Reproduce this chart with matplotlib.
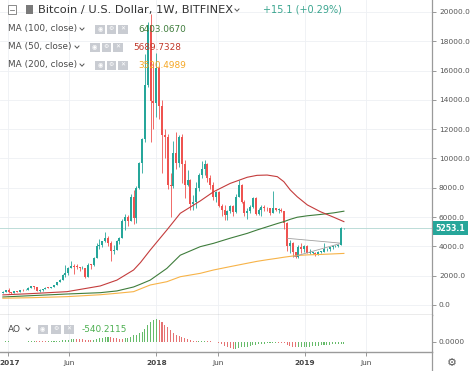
import pandas as pd
import matplotlib
matplotlib.use("Agg")
from matplotlib import pyplot as plt
from matplotlib import dates as mdates
from matplotlib import transforms
from matplotlib.lines import Line2D
from matplotlib.patches import Rectangle

W, H = 474, 371  # pixel size of the figure

# weekly BTC/USD candles, first week starts 2016-12-19
start_week = "2016-12-19"
opens = [
    790, 900, 998, 910, 820, 922, 915, 1015, 998, 1050,
    1180, 1270, 1230, 965, 1040, 1080, 1190, 1180, 1250, 1350,
    1560, 1720, 2040, 2150, 2550, 2640, 2600, 2590, 2500, 2510,
    1930, 2760, 2730, 3240, 4060, 4090, 4350, 4600, 4250, 3700,
    3780, 4400, 4600, 5700, 6000, 5750, 7400, 5950, 8000, 9700,
    11300, 15000, 19100, 13900, 13800, 16200, 13600, 11600, 11500, 8200,
    8100, 10400, 9700, 11500, 9600, 8200, 8500, 6900, 7000, 8000,
    8900, 9300, 9650, 8700, 8200, 7350, 7700, 6770, 6500, 6150,
    6400, 6750, 6350, 7400, 8200, 7030, 6300, 6400, 6700, 7300,
    6200, 6500, 6700, 6620, 6600, 6300, 6600, 6500, 6500, 6400,
    5600, 4000, 4200, 3600, 3250, 3980, 3850, 4050, 3550, 3550,
    3550, 3450, 3650, 3650, 3800, 3800, 3950, 4000, 4000, 4100,
    5238]
highs = [
    940, 1000, 1150, 915, 930, 930, 1030, 1060, 1060, 1200,
    1290, 1330, 1250, 1060, 1100, 1200, 1220, 1260, 1360, 1600,
    1800, 2100, 2760, 2560, 2980, 2800, 2780, 2620, 2640, 2530,
    2900, 2790, 3300, 4200, 4480, 4400, 4980, 4700, 4350, 4100,
    4450, 4650, 5850, 6200, 6150, 7600, 7880, 8100, 9750, 11400,
    17100, 19300, 19891, 16500, 17200, 16300, 14000, 12000, 11700, 9000,
    11200, 11800, 11600, 11700, 9900, 9200, 8600, 7500, 8400, 9000,
    9800, 9900, 9700, 8900, 8400, 7800, 7800, 6900, 6800, 6500,
    6850, 6800, 7600, 8500, 8250, 7150, 6600, 6800, 7400, 7400,
    6600, 6800, 6800, 6700, 6650, 7780, 6650, 6600, 6600, 6450,
    5650, 4450, 4300, 3650, 4100, 4250, 4100, 4100, 3800, 3650,
    3600, 3700, 3700, 4200, 3900, 3950, 4050, 4100, 4150, 5350,
    5280]
lows = [
    785, 880, 810, 755, 815, 880, 910, 940, 990, 1040,
    1140, 1100, 940, 890, 930, 1075, 1150, 1170, 1240, 1340,
    1550, 1700, 1900, 2080, 2540, 2100, 2450, 2330, 2480, 1830,
    1920, 2480, 2650, 3200, 3850, 3940, 4300, 4050, 2970, 3500,
    3740, 4150, 4550, 5100, 5400, 5700, 5500, 5600, 7950, 9000,
    11100, 14900, 11100, 12000, 12800, 12700, 9000, 10000, 7900, 6000,
    8000, 9300, 9400, 8300, 7300, 8100, 6500, 6500, 6600, 7800,
    8700, 8900, 8400, 7900, 7200, 7000, 6700, 6100, 5800, 5800,
    6300, 6100, 6300, 7400, 6950, 6100, 5900, 6250, 6600, 6150,
    6150, 6100, 6450, 6450, 6150, 6300, 6450, 6300, 6350, 5200,
    3700, 3550, 3250, 3200, 3200, 3550, 3650, 3550, 3500, 3450,
    3350, 3400, 3550, 3650, 3700, 3700, 3800, 3950, 3950, 4100,
    5200]
closes = [
    900, 998, 910, 820, 922, 915, 1015, 998, 1050, 1180,
    1270, 1230, 965, 1040, 1080, 1190, 1180, 1250, 1350, 1560,
    1720, 2040, 2150, 2550, 2640, 2600, 2590, 2500, 2510, 1930,
    2760, 2730, 3240, 4060, 4090, 4350, 4600, 4250, 3700, 3780,
    4400, 4600, 5700, 6000, 5750, 7400, 5950, 8000, 9700, 11300,
    15000, 19100, 13900, 13800, 16200, 13600, 11600, 11500, 8200, 8100,
    10400, 9700, 11500, 9600, 8200, 8500, 6900, 7000, 8000, 8900,
    9300, 9650, 8700, 8200, 7350, 7700, 6770, 6500, 6150, 6400,
    6750, 6350, 7400, 8200, 7030, 6300, 6400, 6700, 7300, 6200,
    6500, 6700, 6620, 6600, 6300, 6600, 6500, 6500, 6400, 5600,
    4000, 4200, 3600, 3250, 3980, 3850, 4050, 3550, 3550, 3550,
    3450, 3650, 3650, 3800, 3800, 3950, 4000, 4000, 4100, 5238,
    5253.1]

# awesome oscillator, one value per week
ao = [
    150, 180, 200, 170, 140, 120, 130, 140, 160, 200,
    260, 300, 260, 220, 200, 190, 200, 230, 270, 340,
    430, 560, 700, 850, 950, 1000, 980, 940, 880, 760,
    720, 700, 780, 1000, 1250, 1500, 1750, 1850, 1650, 1450,
    1300, 1200, 1150, 1300, 1500, 1900, 2300, 2600, 3000, 3600,
    4500, 5800, 7000, 7600, 8000, 7700, 7000, 6100, 5100, 4100,
    3300, 2600, 2100, 1700, 1300, 1000, 700, 400, 250, 300,
    400, 450, 350, 200, 30, -150, -400, -800, -1300, -1800,
    -2200, -2500, -2400, -2100, -1900, -1750, -1600, -1400, -1200, -1000,
    -850, -700, -550, -450, -350, -250, -200, -220, -300, -500,
    -900, -1300, -1700, -1900, -1850, -1800, -1750, -1700, -1600, -1500,
    -1400, -1300, -1200, -1100, -1000, -900, -800, -720, -650, -590,
    -540.2115]

# moving averages
ma_dates = ["2016-12-19", "2017-03-01", "2017-05-26", "2017-08-16", "2017-09-26",
            "2017-11-06", "2017-11-23", "2017-12-17", "2018-01-27", "2018-03-01",
            "2018-04-19", "2018-05-22", "2018-07-02", "2018-08-13", "2018-09-06",
            "2018-10-01", "2018-10-26", "2018-11-11", "2018-11-27", "2018-12-14",
            "2019-01-08", "2019-02-09", "2019-03-14", "2019-04-08"]
ma50 = [690, 780, 910, 1300, 1700, 2390, 2900, 3750, 5120, 6260, 7100, 7730,
        8300, 8720, 8850, 8870, 8760, 8420, 7850, 7390, 6830, 6370, 5990, 5689.7328]
ma100 = [546, 640, 750, 840, 960, 1230, 1420, 1700, 2500, 3400, 3980, 4210,
         4560, 4890, 5120, 5340, 5560, 5690, 5850, 5990, 6090, 6180, 6290, 6403.0670]
ma200 = [460, 500, 570, 700, 800, 910, 1100, 1365, 1590, 1930, 2160, 2390,
         2620, 2850, 2980, 3090, 3190, 3260, 3320, 3380, 3420, 3450, 3490, 3520.4989]

# triangle drawn on the chart
tri_dates = ["2018-11-20", "2019-03-28"]
tri_upper = [4550, 4230]
tri_lower_dates = ["2018-12-05", "2019-03-28"]
tri_lower = [3300, 4180]

tick_dates = ["2017-01-01", "2017-06-01", "2018-01-01", "2018-06-01", "2019-01-01", "2019-06-01"]
tick_names = ["2017", "Jun", "2018", "Jun", "2019", "Jun"]

up_col = "#26a69a"
down_col = "#ef5350"
grid_col = "#eef0f4"
line_col = "#9a9a9a"

plt.rcParams["font.family"] = ["DejaVu Sans"]


def fx(px):
    return px / W


def fy(py):
    return 1 - py / H


fig = plt.figure(figsize=(W / 100, H / 100), dpi=100)
ax = fig.add_axes([0, fy(315), fx(432), 315 / H])
ao_ax = fig.add_axes([0, fy(352), fx(432), 37 / H], sharex=ax)

x = mdates.date2num(pd.date_range(start_week, periods=len(closes), freq="7D"))
colors = [up_col if c >= o else down_col for o, c in zip(opens, closes)]
bottoms = [min(o, c) for o, c in zip(opens, closes)]
heights = [max(abs(c - o), 50) for o, c in zip(opens, closes)]

ax.vlines(x, lows, highs, colors=colors, lw=0.6, zorder=3)
ax.bar(x, heights, bottom=bottoms, width=5.0, color=colors, lw=0, zorder=3)

md = mdates.date2num(pd.to_datetime(ma_dates))
ax.plot(md, ma100, color="#3f7d3c", lw=0.8, zorder=4)
ax.plot(md, ma50, color="#c43c3c", lw=0.8, zorder=4)
ax.plot(md, ma200, color="#f7b348", lw=0.8, zorder=4)

ax.plot(mdates.date2num(pd.to_datetime(tri_dates)), tri_upper, color="#a0a0a0", lw=0.6, zorder=5)
ax.plot(mdates.date2num(pd.to_datetime(tri_lower_dates)), tri_lower, color="#a0a0a0", lw=0.6, zorder=5)

last = closes[-1]
ax.axhline(last, color="#bcdcd8", lw=0.7, zorder=2)
ax.annotate("%.1f" % last, xy=(1, last), xycoords=("axes fraction", "data"),
            xytext=(2.5, 0), textcoords="offset points", ha="left", va="center",
            fontsize=5.6, fontweight="bold", color="white", annotation_clip=False,
            bbox=dict(boxstyle="square,pad=0.3", fc=up_col, ec="none"), zorder=10)

ax.set_xlim(mdates.date2num(pd.Timestamp("2016-12-12")), mdates.date2num(pd.Timestamp("2019-11-11")))
ax.set_ylim(-683, 20819)
ax.set_yticks(range(0, 20001, 2000))
ax.set_yticklabels(["%.1f" % v for v in range(0, 20001, 2000)])
ax.yaxis.tick_right()
ax.tick_params(axis="y", length=3, width=0.6, color="#888888", labelsize=5.3,
               labelcolor="#555555", pad=2)
ax.tick_params(axis="x", bottom=False, labelbottom=False)
ax.grid(color=grid_col, lw=0.6, zorder=0)

# awesome oscillator panel
ao_colors = ["#66bb6a"] + ["#66bb6a" if ao[i] >= ao[i - 1] else "#e57373" for i in range(1, len(ao))]
ao_ax.bar(x, ao, width=2.6, color=ao_colors, lw=0, zorder=3)
ao_ax.set_ylim(-3500, 9450)
ao_ax.set_yticks([0])
ao_ax.set_yticklabels(["0.0000"])
ao_ax.yaxis.tick_right()
ao_ax.tick_params(axis="y", length=3, width=0.6, color="#888888", labelsize=5.3,
                  labelcolor="#555555", pad=2)
ao_ax.set_xticks(mdates.date2num(pd.to_datetime(tick_dates)))
ao_ax.set_xticklabels(tick_names)
ao_ax.tick_params(axis="x", length=3, width=0.6, color="#888888", labelsize=5.3,
                  labelcolor="#444444", pad=2.5)
for lbl in ao_ax.get_xticklabels():
    if lbl.get_text() != "Jun":
        lbl.set_fontweight("bold")
# first year label sits right at the left edge, nudge it in a little
first = ao_ax.get_xticklabels()[0]
first.set_transform(first.get_transform() + transforms.ScaledTranslation(1.2 / 100, 0, fig.dpi_scale_trans))
ao_ax.grid(axis="x", color=grid_col, lw=0.6, zorder=0)

for a in (ax, ao_ax):
    a.spines["top"].set_visible(False)
    a.spines["left"].set_visible(False)
    a.spines["right"].set_color(line_col)
    a.spines["bottom"].set_color(line_col)
    a.spines["right"].set_linewidth(0.9)
    a.spines["bottom"].set_linewidth(1.0)

fig.lines.append(Line2D([fx(432), fx(432)], [0, fy(352)], transform=fig.transFigure,
                        color=line_col, lw=0.9))
fig.text(fx(452), fy(363), "\u2699", fontsize=8, color="#555555", ha="center", va="center")


# legend helpers
def chevron(px, py):
    fig.lines.append(Line2D([fx(px - 2), fx(px), fx(px + 2)], [fy(py - 1), fy(py + 1.2), fy(py - 1)],
                            transform=fig.transFigure, color="#555555", lw=0.7))


def icons(px, py, step=11.7):
    for i, glyph in enumerate(["\u25c9", "\u2699", "\u2715"]):
        bx = px + i * step
        fig.patches.append(Rectangle((fx(bx), fy(py + 4.5)), 9.5 / W, 9 / H, transform=fig.transFigure,
                                     fc="#c9ccd2", ec="none"))
        fig.text(fx(bx + 4.75), fy(py), glyph, fontsize=4.3, color="white", ha="center", va="center")


fig.patches.append(Rectangle((fx(8), fy(14)), 8 / W, 9 / H, transform=fig.transFigure,
                             fc="white", ec="#777777", lw=0.6))
fig.lines.append(Line2D([fx(9.8), fx(14.2)], [fy(9.5), fy(9.5)], transform=fig.transFigure,
                        color="#777777", lw=0.6))
fig.patches.append(Rectangle((fx(26), fy(13.5)), 6.5 / W, 9 / H, transform=fig.transFigure,
                             fc="#7a7a7a", ec="none"))
fig.text(fx(38), fy(10), "Bitcoin / U.S. Dollar, 1W, BITFINEX", fontsize=8.2, color="#333333",
         ha="left", va="center")
chevron(237, 10)
fig.text(fx(263), fy(10), "+15.1 (+0.29%)", fontsize=7, color="#3aa58f", ha="left", va="center")

rows = [("MA (100, close)", 29, 82, 95, 138, ma100[-1], "#3f7d3c"),
        ("MA (50, close)", 47, 77, 90, 133, ma50[-1], "#c0392b"),
        ("MA (200, close)", 65, 82, 95, 138, ma200[-1], "#f5a623")]
for name, ry, cx, ix, vx, val, col in rows:
    fig.text(fx(8), fy(ry), name, fontsize=6.4, color="#4a4a4a", ha="left", va="center")
    chevron(cx, ry)
    icons(ix, ry)
    fig.text(fx(vx), fy(ry), "%.4f" % val, fontsize=6.4, color=col, ha="left", va="center")

fig.text(fx(8), fy(329), "AO", fontsize=6.4, color="#4a4a4a", ha="left", va="center")
chevron(28, 329)
icons(38, 329, step=13)
fig.text(fx(82), fy(329), "%.4f" % ao[-1], fontsize=6.4, color="#4caf50", ha="left", va="center")

fig.savefig("out.png", dpi=100)
